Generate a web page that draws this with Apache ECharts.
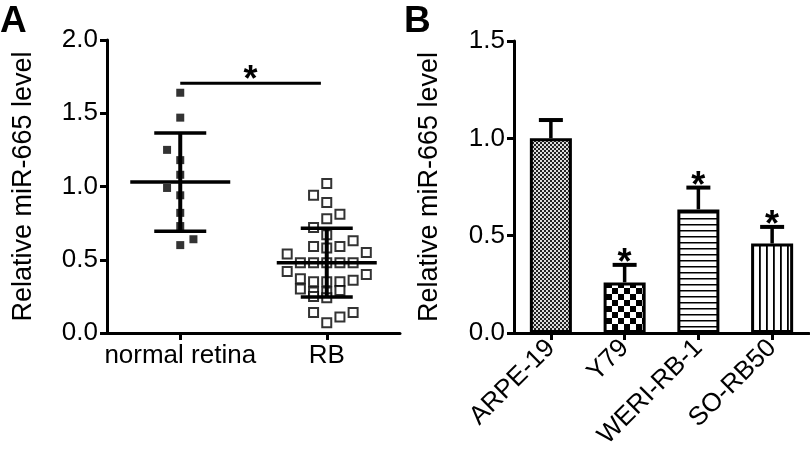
<!DOCTYPE html>
<html><head><meta charset="utf-8">
<script src="https://cdn.jsdelivr.net/npm/echarts@6/dist/echarts.min.js"></script>
<style>html,body{margin:0;padding:0;background:#fff}#c{width:810px;height:454px}</style>
</head><body><div id="c"></div>
<script>
// ---- Panel A data ----
const groupsA = ['normal retina', 'RB'];
const normalValues = [1.64, 1.47, 1.25, 1.18, 1.08, 0.99, 0.94, 0.82, 0.73, 0.64, 0.60];
const normalJitter = [0, 0, -1, 0, 0, -1, 0, 0, 0, 1, 0];
const rbValues = [1.02, 0.94, 0.89, 0.81, 0.78, 0.72, 0.67, 0.63, 0.59, 0.58, 0.59, 0.54, 0.55,
  0.48, 0.48, 0.48, 0.48, 0.48, 0.42, 0.40, 0.37, 0.35, 0.35, 0.35, 0.36,
  0.30, 0.28, 0.28, 0.29, 0.25, 0.24, 0.14, 0.07, 0.11, 0.14];
const rbJitter = [0, -1, 0, 1, 0, -1, 0, 2, -1, 0, 1, -3, 3,
  -2, -1, 0, 1, 2, -3, 3, -2, -1, 0, 1, 2,
  -2, -1, 0, 1, -1, 0, -1, 0, 1, 2];
const meanA = [1.03, 0.48];
const sdA = [0.335, 0.235];
const sigA = { from: 0.5, to: 1.46, y: 1.705, text: '*' };
const yTicksA = [0, 0.5, 1.0, 1.5, 2.0];

// ---- Panel B data ----
const cellLines = ['ARPE-19', 'Y79', 'WERI-RB-1', 'SO-RB50'];
const barValues = [1.00, 0.26, 0.635, 0.46];
const barErrors = [0.094, 0.09, 0.112, 0.085];
const starsB = ['', '*', '*', '*'];
const yTicksB = [0, 0.5, 1.0, 1.5];

const FONT = "'Liberation Sans', Arial, sans-serif";
const JSTEP = 0.09;

function makePattern(w, h, draw) {
  const c = document.createElement('canvas');
  c.width = w; c.height = h;
  const g = c.getContext('2d');
  g.fillStyle = '#fff'; g.fillRect(0, 0, w, h);
  g.fillStyle = '#000';
  draw(g);
  return { image: c, repeat: 'repeat' };
}
const patterns = [
  makePattern(4, 4, g => { g.fillStyle = '#222'; g.fillRect(0, 0, 4, 4); g.fillStyle = '#ddd'; g.fillRect(0, 0, 2, 2); g.fillRect(2, 2, 2, 2); }),
  makePattern(12, 12, g => { g.fillRect(0, 0, 6, 6); g.fillRect(6, 6, 6, 6); }),
  makePattern(6, 6, g => { g.fillRect(0, 2, 6, 1.5); }),
  makePattern(7, 7, g => { g.fillRect(3, 0, 1.8, 7); })
];

const axisLineStyle = { lineStyle: { color: '#000', width: 3 } };
const tickStyle = { show: true, inside: false, length: 7, lineStyle: { color: '#000', width: 3 } };
const STAR_FONT = 'bold 36px ' + FONT;

const chart = echarts.init(document.getElementById('c'), null, { renderer: 'canvas' });
const option = {
  backgroundColor: '#fff',
  animation: false,
  textStyle: { fontFamily: FONT },
  graphic: [
    { type: 'text', left: 0, top: 3, style: { text: 'A', font: "bold 37px " + FONT, fill: '#000' } },
    { type: 'text', left: 404, top: 3, style: { text: 'B', font: "bold 37px " + FONT, fill: '#000' } }
  ],
  grid: [
    { left: 107, top: 40, width: 293, height: 293 },
    { left: 514, top: 41, width: 295, height: 292 }
  ],
  xAxis: [
    { type: 'category', gridIndex: 0, data: groupsA,
      axisLine: axisLineStyle, axisTick: Object.assign({ alignWithLabel: true }, tickStyle),
      axisLabel: { color: '#000', fontSize: 26, fontFamily: FONT, margin: 10, interval: 0 } },
    { type: 'value', gridIndex: 0, min: 0, max: 2, show: false },
    { type: 'category', gridIndex: 1, data: cellLines,
      axisLine: axisLineStyle, axisTick: Object.assign({ alignWithLabel: true }, tickStyle),
      axisLabel: { color: '#000', fontSize: 26, fontFamily: FONT, margin: 11, rotate: 45, interval: 0 } }
  ],
  yAxis: [
    { type: 'value', gridIndex: 0, min: yTicksA[0], max: yTicksA[yTicksA.length - 1], interval: yTicksA[1] - yTicksA[0],
      axisLine: Object.assign({ show: true }, axisLineStyle), axisTick: tickStyle, splitLine: { show: false },
      axisLabel: { color: '#000', fontSize: 26, fontFamily: FONT, margin: 9, formatter: v => v.toFixed(1) },
      name: 'Relative miR-665 level', nameLocation: 'middle', nameRotate: 90, nameGap: 70,
      nameTextStyle: { color: '#000', fontSize: 27, fontFamily: FONT } },
    { type: 'value', gridIndex: 1, min: yTicksB[0], max: yTicksB[yTicksB.length - 1], interval: yTicksB[1] - yTicksB[0],
      axisLine: Object.assign({ show: true }, axisLineStyle), axisTick: tickStyle, splitLine: { show: false },
      axisLabel: { color: '#000', fontSize: 26, fontFamily: FONT, margin: 9, formatter: v => v.toFixed(1) },
      name: 'Relative miR-665 level', nameLocation: 'middle', nameRotate: 90, nameGap: 71,
      nameTextStyle: { color: '#000', fontSize: 27, fontFamily: FONT } }
  ],
  series: [
    { type: 'scatter', xAxisIndex: 1, yAxisIndex: 0, symbol: 'rect', symbolSize: 8,
      itemStyle: { color: '#000' },
      data: normalValues.map((v, i) => [0.5 + normalJitter[i] * JSTEP, v]) },
    { type: 'scatter', xAxisIndex: 1, yAxisIndex: 0, symbol: 'rect', symbolSize: 9,
      itemStyle: { color: '#fff', borderColor: '#000', borderWidth: 2 },
      data: rbValues.map((v, i) => [1.5 + rbJitter[i] * JSTEP, v]) },
    { type: 'custom', xAxisIndex: 0, yAxisIndex: 0, z: 5,
      data: meanA.map((m, i) => [i, m, sdA[i]]),
      renderItem: (params, api) => {
        const c = api.coord([api.value(0), api.value(1)]);
        const up = api.coord([api.value(0), api.value(1) + api.value(2)]);
        const lo = api.coord([api.value(0), api.value(1) - api.value(2)]);
        const st = { stroke: '#000', lineWidth: 3.5 };
        return { type: 'group', children: [
          { type: 'line', shape: { x1: c[0] - 50, y1: c[1], x2: c[0] + 50, y2: c[1] }, style: st },
          { type: 'line', shape: { x1: c[0] - 26, y1: up[1], x2: c[0] + 26, y2: up[1] }, style: st },
          { type: 'line', shape: { x1: c[0] - 26, y1: lo[1], x2: c[0] + 26, y2: lo[1] }, style: st },
          { type: 'line', shape: { x1: c[0], y1: up[1], x2: c[0], y2: lo[1] }, style: { stroke: '#000', lineWidth: 4 } }
        ] };
      } },
    { type: 'custom', xAxisIndex: 1, yAxisIndex: 0, z: 5,
      data: [[sigA.from, sigA.to, sigA.y]],
      renderItem: (params, api) => {
        const a = api.coord([api.value(0), api.value(2)]);
        const b = api.coord([api.value(1), api.value(2)]);
        return { type: 'group', children: [
          { type: 'line', shape: { x1: a[0], y1: a[1], x2: b[0], y2: b[1] }, style: { stroke: '#000', lineWidth: 3 } },
          { type: 'text', x: (a[0] + b[0]) / 2, y: a[1] - 2, style: { text: sigA.text, font: STAR_FONT, fill: '#000', align: 'center', verticalAlign: 'middle' } }
        ] };
      } },
    { type: 'bar', xAxisIndex: 2, yAxisIndex: 1, barWidth: '57%',
      data: barValues.map((v, i) => ({ value: v, itemStyle: { color: patterns[i], borderColor: '#000', borderWidth: 3 } })) },
    { type: 'custom', xAxisIndex: 2, yAxisIndex: 1, z: 5,
      data: barValues.map((v, i) => [i, v, barErrors[i]]),
      renderItem: (params, api) => {
        const base = api.coord([api.value(0), api.value(1)]);
        const top = api.coord([api.value(0), api.value(1) + api.value(2)]);
        const star = starsB[params.dataIndex];
        const ch = [
          { type: 'line', shape: { x1: base[0], y1: base[1], x2: top[0], y2: top[1] }, style: { stroke: '#000', lineWidth: 3.5 } },
          { type: 'line', shape: { x1: top[0] - 12, y1: top[1], x2: top[0] + 12, y2: top[1] }, style: { stroke: '#000', lineWidth: 4 } }
        ];
        if (star) ch.push({ type: 'text', x: top[0], y: top[1] - 1, style: { text: star, font: STAR_FONT, fill: '#000', align: 'center', verticalAlign: 'middle' } });
        return { type: 'group', children: ch };
      } }
  ]
};
chart.setOption(option);
</script></body></html>
